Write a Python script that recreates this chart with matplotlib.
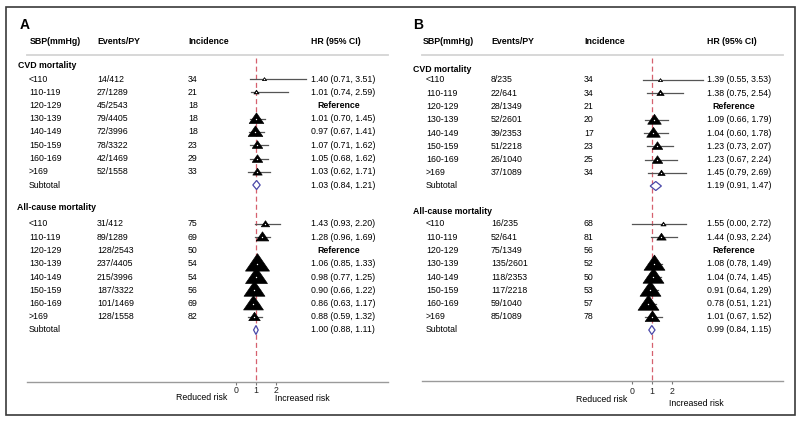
import numpy as np
import matplotlib
matplotlib.use('Agg')
from matplotlib import pyplot as plt
from matplotlib.path import Path
from matplotlib.patches import Rectangle, Polygon

plt.rcParams['font.family'] = ['Liberation Sans', 'DejaVu Sans']

sbp_groups = ['<110', '110-119', '120-129', '130-139', '140-149', '150-159', '160-169', '>169']

# ---- Panel A ----
A_cvd_events = ['14/412', '27/1289', '45/2543', '79/4405', '72/3996', '78/3322', '42/1469', '52/1558']
A_cvd_inc = [34, 21, 18, 18, 18, 23, 29, 33]
A_cvd_hr = [1.40, 1.01, None, 1.01, 0.97, 1.07, 1.05, 1.03]
A_cvd_lo = [0.71, 0.74, None, 0.70, 0.67, 0.71, 0.68, 0.62]
A_cvd_hi = [3.51, 2.59, None, 1.45, 1.41, 1.62, 1.62, 1.71]
A_cvd_wt = [4, 5, None, 14, 14, 10, 10, 9]          # marker width (weight)
A_cvd_sub = (1.03, 0.84, 1.21)

A_all_events = ['31/412', '89/1289', '128/2543', '237/4405', '215/3996', '187/3322', '101/1469', '128/1558']
A_all_inc = [75, 69, 50, 54, 54, 56, 69, 82]
A_all_hr = [1.43, 1.28, None, 1.06, 0.98, 0.90, 0.86, 0.88]
A_all_lo = [0.93, 0.96, None, 0.85, 0.77, 0.66, 0.63, 0.59]
A_all_hi = [2.20, 1.69, None, 1.33, 1.25, 1.22, 1.17, 1.32]
A_all_wt = [8, 12, None, 23, 21, 20, 19, 11]
A_all_sub = (1.00, 0.88, 1.11)

# ---- Panel B ----
B_cvd_events = ['8/235', '22/641', '28/1349', '52/2601', '39/2353', '51/2218', '26/1040', '37/1089']
B_cvd_inc = [34, 34, 21, 20, 17, 23, 25, 34]
B_cvd_hr = [1.39, 1.38, None, 1.09, 1.04, 1.23, 1.23, 1.45]
B_cvd_lo = [0.55, 0.75, None, 0.66, 0.60, 0.73, 0.67, 0.79]
B_cvd_hi = [3.53, 2.54, None, 1.79, 1.78, 2.07, 2.24, 2.69]
B_cvd_wt = [4, 7, None, 13, 13, 10, 10, 7]
B_cvd_sub = (1.19, 0.91, 1.47)

B_all_events = ['16/235', '52/641', '75/1349', '135/2601', '118/2353', '117/2218', '59/1040', '85/1089']
B_all_inc = [68, 81, 56, 52, 50, 53, 57, 78]
B_all_hr = [1.55, 1.44, None, 1.08, 1.04, 0.91, 0.78, 1.01]
B_all_lo = [0.00, 0.93, None, 0.78, 0.74, 0.64, 0.51, 0.67]
B_all_hi = [2.72, 2.24, None, 1.49, 1.45, 1.29, 1.21, 1.52]
B_all_wt = [5, 9, None, 20, 20, 20, 20, 14]
B_all_sub = (0.99, 0.84, 1.15)

# triangle marker, wider than tall
tri = Path([(-1, -0.55), (1, -0.55), (0, 0.9), (-1, -0.55)],
           [Path.MOVETO, Path.LINETO, Path.LINETO, Path.CLOSEPOLY])

fs = 6.3
step = 13.25


def fmt(h, l, u):
    return '%.2f (%.2f, %.2f)' % (h, l, u)


def draw_block(ax, X, title, title_y, row0, events, inc, hr, lo, hi, wt, sub):
    ax.text(X(title[1]), title_y, title[0], fontsize=fs, fontweight='bold', va='center')
    for i in range(len(sbp_groups)):
        y = row0 + i*step
        ax.text(X(X.row), y, sbp_groups[i], fontsize=fs, va='center')
        ax.text(X(X.ev), y, events[i], fontsize=fs, va='center')
        ax.text(X(X.inc), y, str(inc[i]), fontsize=fs, va='center')
        if hr[i] is None:
            ax.text(X(X.ref), y, 'Reference', fontsize=fs, fontweight='bold', va='center')
            continue
        ax.text(X(X.hrt), y, fmt(hr[i], lo[i], hi[i]), fontsize=fs, va='center')
        ax.plot([lo[i], hi[i]], [y, y], color='#555555', lw=0.9, zorder=2)
        ax.scatter([hr[i]], [y], s=(0.75*wt[i])**2, marker=tri, c='black',
                   edgecolors='black', linewidths=0.5, zorder=3)
        ax.scatter([hr[i]], [y], s=1.0, c='white', linewidths=0, zorder=4)
    y = row0 + 8*step
    ax.text(X(X.row), y, 'Subtotal', fontsize=fs, va='center')
    ax.text(X(X.hrt), y, fmt(*sub), fontsize=fs, va='center')
    h, l, u = sub
    ax.add_patch(Polygon([(l, y), (h, y - 4.5), (u, y), (h, y + 4.5)], closed=True,
                         facecolor='white', edgecolor='#4a48a8', lw=0.9, zorder=3))


class Cols:
    def __init__(self, one, **kw):
        self.one = one
        self.__dict__.update(kw)

    def __call__(self, px):
        return 1 + (px - self.one)/20.0


def draw_panel(ax, letter, X, lay, blocks):
    ax.set_xlim(X(lay['left']), X(lay['left'] + 392))
    ax.set_ylim(415, 7)
    for s in ['top', 'left', 'right']:
        ax.spines[s].set_visible(False)
    ax.set_yticks([])
    ax.patch.set_alpha(0)

    ax.text(X(lay['letter']), 25, letter, fontsize=10, fontweight='bold', va='center')
    ax.text(X(X.sbp), 41, 'SBP(mmHg)', fontsize=fs, fontweight='bold', va='center')
    ax.text(X(X.ev), 41, 'Events/PY', fontsize=fs, fontweight='bold', va='center')
    ax.text(X(X.inc), 41, 'Incidence', fontsize=fs, fontweight='bold', va='center')
    ax.text(X(X.hrt), 41, 'HR (95% CI)', fontsize=fs, fontweight='bold', va='center')
    ax.plot([X(lay['l0']), X(lay['l1'])], [55, 55], color='#d4d4d4', lw=1.3)

    for b in blocks:
        draw_block(ax, X, *b)

    axy = lay['axis_y']
    ax.plot([1, 1], [58, axy], ls=(0, (4, 2.5)), color='#d6606e', lw=0.9, zorder=1)
    ax.spines['bottom'].set_position(('data', axy))
    ax.spines['bottom'].set_bounds(X(lay['l0']), X(lay['l1']))
    ax.spines['bottom'].set_color('#9a9a9a')
    ax.spines['bottom'].set_linewidth(1.0)
    ax.set_xticks([0, 1, 2])
    ax.set_xticklabels(['0', '1', '2'])
    ax.tick_params(axis='x', length=2.5, width=0.8, color='#777777', labelsize=fs,
                   pad=lay['pad'], labelcolor='#222222')
    ax.text(X(lay['red_x']), lay['red_y'], 'Reduced risk', fontsize=fs, ha='right', va='center')
    ax.text(X(lay['inc_x']), lay['inc_y'], 'Increased risk', fontsize=fs, ha='left', va='center')


fig = plt.figure(figsize=(8, 4.21), dpi=100)
fig.add_artist(Rectangle((6/800, 6/421), 789/800, 408/421, transform=fig.transFigure,
                         fill=False, edgecolor='#3a3a3a', lw=1.2))

axA = fig.add_axes([6/800, 6/421, 392/800, 408/421])
XA = Cols(256, row=29, ev=97, inc=188, hrt=311, ref=317, sbp=30)
layA = dict(left=6, letter=20, l0=27, l1=388, axis_y=382, pad=0.3,
            red_x=227, red_y=398, inc_x=275, inc_y=398.5)
draw_panel(axA, 'A', XA, layA, [
    (('CVD mortality', 18), 66, 79, A_cvd_events, A_cvd_inc, A_cvd_hr, A_cvd_lo, A_cvd_hi, A_cvd_wt, A_cvd_sub),
    (('All-cause mortality', 17), 208, 224, A_all_events, A_all_inc, A_all_hr, A_all_lo, A_all_hi, A_all_wt, A_all_sub),
])

axB = fig.add_axes([402/800, 6/421, 392/800, 408/421])
XB = Cols(652, row=426, ev=491, inc=584, hrt=707, ref=712, sbp=423)
layB = dict(left=402, letter=413, l0=422, l1=783, axis_y=381, pad=2.0,
            red_x=627, red_y=399, inc_x=669, inc_y=403.5)
draw_panel(axB, 'B', XB, layB, [
    (('CVD mortality', 413), 70, 80, B_cvd_events, B_cvd_inc, B_cvd_hr, B_cvd_lo, B_cvd_hi, B_cvd_wt, B_cvd_sub),
    (('All-cause mortality', 413), 211, 224, B_all_events, B_all_inc, B_all_hr, B_all_lo, B_all_hi, B_all_wt, B_all_sub),
])

fig.savefig('out.png', dpi=100)
